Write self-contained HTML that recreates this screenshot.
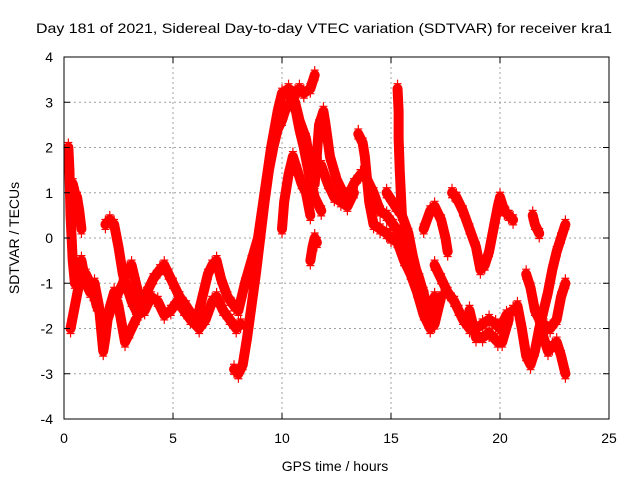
<!DOCTYPE html>
<html><head><meta charset="utf-8"><style>
html,body{margin:0;padding:0;background:#fff;}
svg{display:block;font-family:"Liberation Sans",sans-serif;}
</style></head><body>
<svg id="chart" width="640" height="480" viewBox="0 0 640 480" xmlns="http://www.w3.org/2000/svg">
<rect width="640" height="480" fill="#fff"/>
<text x="324" y="33" font-size="14" text-anchor="middle" textLength="576" lengthAdjust="spacingAndGlyphs" fill="#000">Day 181 of 2021, Sidereal Day-to-day VTEC variation (SDTVAR) for receiver kra1</text>
<g id="grid"></g>
<g id="series"></g>
<g id="axes"></g>
<text x="335" y="471" font-size="14" text-anchor="middle" fill="#000">GPS time / hours</text>
<text transform="translate(19,238) rotate(-90)" font-size="14" text-anchor="middle" fill="#000">SDTVAR / TECUs</text>
</svg>
<script>
const xTicks=[0,5,10,15,20,25];
const yTicks=[-4,-3,-2,-1,0,1,2,3,4];
const track1=[[0.2,2.0],[0.25,1.5],[0.3,0.5],[0.35,0.0],[0.4,-0.5],[0.5,-1.0],[0.6,-0.7],[0.8,-0.5],[1.0,-1.0],[1.2,-1.2],[1.4,-1.0],[1.6,-1.5],[1.8,-2.5],[1.9,-2.2],[2.0,-1.8],[2.2,-1.5],[2.5,-1.2],[2.7,-1.0],[2.9,-0.7],[3.1,-0.6],[3.3,-1.0],[3.5,-1.4],[3.8,-1.2],[4.1,-0.9],[4.4,-0.7],[4.6,-0.6],[4.8,-0.8],[5.0,-1.0],[5.3,-1.3],[5.6,-1.5],[6.0,-1.8],[6.2,-1.6],[6.4,-1.2],[6.6,-0.8],[6.8,-0.6],[7.0,-0.5],[7.2,-0.9],[7.5,-1.3],[7.8,-1.5],[8.0,-1.6],[8.3,-1.0],[8.6,-0.5],[8.9,0.0],[9.2,1.0],[9.5,2.0],[9.8,2.8],[10.0,3.2],[10.3,3.3],[10.6,3.2],[10.8,3.3],[11.0,3.2],[11.3,3.3],[11.5,3.6]];
const track2=[[0.4,1.2],[0.5,1.0],[0.6,0.9],[0.7,0.6],[0.8,0.2]];
const track3=[[0.3,-2.0],[0.5,-1.5],[0.7,-1.0],[1.0,-0.8],[1.3,-1.1],[1.5,-1.5],[1.8,-1.8],[2.0,-1.7],[2.3,-1.2],[2.5,-1.5],[2.8,-2.3],[3.0,-2.1],[3.3,-1.8]];
const track4=[[1.9,0.3],[2.1,0.4],[2.3,0.3],[2.5,-0.2],[2.7,-0.8],[2.9,-1.1],[3.1,-1.4],[3.4,-1.7],[3.7,-1.6],[4.0,-1.3],[4.3,-1.4],[4.6,-1.7],[4.9,-1.6],[5.2,-1.4],[5.5,-1.6],[5.8,-1.8],[6.2,-2.0],[6.5,-1.8],[6.8,-1.4],[7.0,-1.3],[7.3,-1.6],[7.6,-1.8],[7.9,-2.0],[8.1,-1.9]];
const track5=[[7.8,-2.9],[8.0,-3.0],[8.2,-2.8],[8.4,-2.2],[8.6,-1.5],[8.8,-0.8],[9.0,0.0],[9.2,0.8],[9.4,1.5],[9.6,2.0],[9.8,2.4],[10.0,2.6],[10.2,2.9],[10.4,3.0],[10.6,2.9],[10.8,2.4],[11.0,2.0],[11.2,1.5],[11.5,0.9],[11.8,0.6]];
const track6=[[10.3,3.2],[10.6,3.0],[10.8,2.6],[11.1,2.2],[11.3,1.6],[11.5,1.2],[11.7,2.5],[11.9,2.8],[12.0,2.5],[12.2,1.8],[12.5,1.3],[12.8,1.0],[13.0,0.9],[13.3,1.2],[13.6,1.4],[13.9,1.3],[14.2,1.0],[14.5,0.6],[14.8,0.5],[15.1,0.3],[15.4,0.1],[15.7,-0.3],[16.0,-0.5],[16.3,-0.9],[16.6,-1.4],[16.9,-1.8],[17.0,-1.3]];
const track7=[[11.3,-0.5],[11.4,-0.2],[11.5,0.0],[11.6,-0.1]];
const track8=[[13.5,2.3],[13.7,2.1],[13.8,1.8],[13.9,1.3],[14.0,0.8],[14.2,0.3],[14.5,0.2],[14.8,0.1],[15.0,0.0],[15.3,-0.1],[15.6,-0.5],[15.9,-0.8],[16.2,-1.2],[16.5,-1.7],[16.8,-2.0],[17.0,-1.9],[17.3,-1.3]];
const track9=[[15.3,3.3],[15.35,2.8],[15.35,2.2],[15.4,1.5],[15.45,1.0],[15.5,0.5]];
const track10=[[16.5,0.2],[16.8,0.6],[17.0,0.7],[17.3,0.4],[17.5,0.0],[17.6,-0.3]];
const track11=[[17.8,1.0],[18.0,0.9],[18.3,0.6],[18.6,0.2],[18.9,-0.2],[19.1,-0.7],[19.3,-0.6],[19.5,-0.3],[19.7,0.2],[19.9,0.7],[20.0,0.9],[20.2,0.6],[20.4,0.5],[20.6,0.4]];
const track12=[[17.0,-0.6],[17.3,-0.9],[17.6,-1.2],[17.9,-1.4],[18.1,-1.6],[18.3,-1.8],[18.6,-2.0],[18.9,-2.0],[19.2,-1.9],[19.5,-1.8],[19.8,-1.9],[20.0,-2.0],[20.3,-1.7],[20.6,-1.6]];
const track13=[[18.6,-1.6],[18.9,-2.2],[19.2,-2.2],[19.5,-2.1],[19.9,-2.3],[20.1,-2.3],[20.4,-1.8]];
const track14=[[20.8,-1.5],[21.0,-2.0],[21.2,-2.6],[21.4,-2.8],[21.6,-2.5],[21.8,-2.0],[22.0,-1.6],[22.2,-1.2],[22.4,-0.7],[22.6,-0.3],[22.8,0.0],[23.0,0.3]];
const track15=[[21.5,0.5],[21.6,0.3],[21.8,0.1]];
const track16=[[21.2,-0.8],[21.4,-1.1],[21.6,-1.6],[21.8,-1.8],[22.0,-2.2],[22.2,-2.5],[22.4,-2.4],[22.6,-2.3],[22.8,-2.6],[23.0,-3.0]];
const track17=[[22.0,-1.9],[22.3,-2.0],[22.6,-1.8],[22.8,-1.3],[23.0,-1.0]];
const track18=[[14.8,1.0],[15.2,0.7],[15.5,0.5],[15.8,0.1],[16.0,-0.4],[16.3,-1.0],[16.5,-1.2]];
const track19=[[10.0,0.2],[10.1,0.8],[10.3,1.4],[10.5,1.8],[10.7,1.5],[10.9,1.2],[11.1,1.0],[11.3,0.5]];
const track20=[[11.8,1.6],[12.1,1.2],[12.4,0.9],[12.7,0.8],[13.0,0.7],[13.3,1.0]];
const tracks=[track1,track2,track3,track4,track5,track6,track7,track8,track9,track10,track11,track12,track13,track14,track15,track16,track17,track18,track19,track20];

const L=64,R=609,T=57,B=419,xMin=0,xMax=25,yMin=-4,yMax=4;
function xs(v){return L+(v-xMin)/(xMax-xMin)*(R-L);}
function ys(v){return B-(v-yMin)/(yMax-yMin)*(B-T);}
const NS='http://www.w3.org/2000/svg';
function mk(tag,attrs,parent){const e=document.createElementNS(NS,tag);for(const k in attrs)e.setAttribute(k,attrs[k]);parent.appendChild(e);return e;}
const grid=document.getElementById('grid'),axes=document.getElementById('axes'),series=document.getElementById('series');
xTicks.forEach(t=>{
  const x=xs(t);
  if(t>xMin&&t<xMax){const g=mk('line',{x1:x,x2:x,y1:T,y2:B,stroke:'#a0a0a0','stroke-width':1,'stroke-dasharray':'2,3'},grid);
  
  }
  const a=mk('line',{x1:x,x2:x,y1:B,y2:B-6,stroke:'#000'},axes);
  
  
  const b=mk('line',{x1:x,x2:x,y1:T,y2:T+6,stroke:'#000'},axes);
  
  
  const l=mk('text',{x:x,y:443,'font-size':14,'text-anchor':'middle',fill:'#000'},axes);
  l.textContent=t;
  
  
});
yTicks.forEach(t=>{
  const y=ys(t);
  if(t>yMin&&t<yMax){const g=mk('line',{x1:L,x2:R,y1:y,y2:y,stroke:'#a0a0a0','stroke-width':1,'stroke-dasharray':'2,3'},grid);
  
  }
  const a=mk('line',{x1:L,x2:L+6,y1:y,y2:y,stroke:'#000'},axes);
  
  
  const b=mk('line',{x1:R,x2:R-6,y1:y,y2:y,stroke:'#000'},axes);
  
  
  const l=mk('text',{x:53,y:y+5,'font-size':14,'text-anchor':'end',fill:'#000'},axes);
  l.textContent=t;
  
  
});
const frame=mk('rect',{x:L,y:T,width:R-L,height:B-T,fill:'none',stroke:'#000','stroke-width':1},axes);


tracks.forEach((tr,i)=>{
  const pl=mk('polyline',{points:tr.map(p=>xs(p[0])+','+ys(p[1])).join(' '),fill:'none',stroke:'#ff0000','stroke-width':10,'stroke-linejoin':'round','stroke-linecap':'round'},series);
  
  
  tr.forEach(p=>{
    const x=xs(p[0]),y=ys(p[1]);
    [-5,0,5].forEach(dy=>{
      const m=mk('path',{d:`M${x-4},${y+dy}H${x+4}M${x},${y+dy-4}V${y+dy+4}`,stroke:'#ff0000','stroke-width':1.2},series);
      
      
    });
  });
});
</script>
</body></html>
